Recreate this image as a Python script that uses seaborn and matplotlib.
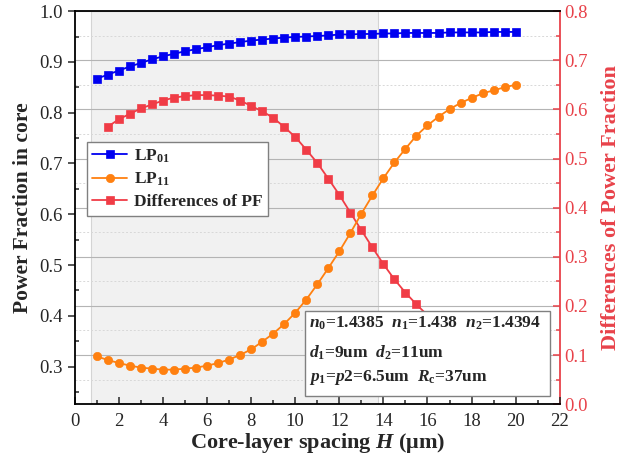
import matplotlib
matplotlib.use('Agg')
import matplotlib.pyplot as plt
from matplotlib.patches import Rectangle
from matplotlib.ticker import MultipleLocator, FormatStrFormatter
import seaborn as sns

# core-layer spacing H (um)
H = [1, 1.5, 2, 2.5, 3, 3.5, 4, 4.5, 5, 5.5, 6, 6.5, 7, 7.5, 8, 8.5, 9, 9.5, 10, 10.5,
     11, 11.5, 12, 12.5, 13, 13.5, 14, 14.5, 15, 15.5, 16, 16.5, 17, 17.5, 18, 18.5, 19, 19.5, 20]
lp01 = [0.867, 0.875, 0.883, 0.891, 0.898, 0.905, 0.911, 0.916, 0.921, 0.925,
        0.929, 0.933, 0.936, 0.939, 0.942, 0.944, 0.946, 0.948, 0.949, 0.950,
        0.951, 0.952, 0.954, 0.954, 0.955, 0.955, 0.956, 0.956, 0.957, 0.957,
        0.957, 0.957, 0.958, 0.958, 0.958, 0.958, 0.959, 0.959, 0.959]
lp11 = [0.320, 0.313, 0.307, 0.302, 0.298, 0.296, 0.294, 0.294, 0.296, 0.298,
        0.302, 0.307, 0.314, 0.323, 0.334, 0.349, 0.365, 0.384, 0.406, 0.432,
        0.462, 0.494, 0.527, 0.563, 0.601, 0.637, 0.671, 0.702, 0.729, 0.755,
        0.775, 0.792, 0.807, 0.819, 0.829, 0.838, 0.844, 0.850, 0.855]
H_diff = H[1:]
diff_pf = [0.565, 0.580, 0.591, 0.602, 0.610, 0.618, 0.624, 0.627, 0.629, 0.629,
           0.628, 0.626, 0.618, 0.607, 0.596, 0.583, 0.564, 0.544, 0.518, 0.491,
           0.459, 0.426, 0.390, 0.354, 0.319, 0.285, 0.254, 0.227, 0.203, 0.181,
           0.165, 0.150, 0.138, 0.128, 0.120, 0.114, 0.109, 0.104]

info_lines = [r'$\mathit{n}_\mathrm{0}$=1.4385  $\mathit{n}_\mathrm{1}$=1.438  $\mathit{n}_\mathrm{2}$=1.4394',
              r'$\mathit{d}_\mathrm{1}$=9um  $\mathit{d}_\mathrm{2}$=11um',
              r'$\mathit{p}_\mathrm{1}$=$\mathit{p}$2=6.5um  $\mathit{R}_\mathrm{c}$=37um']

blue = '#0000F0'
orange = '#FF8010'
red = '#F03C46'
axred = '#E8424A'

sns.set_theme(style='white')
plt.rcParams['font.family'] = ['Liberation Serif', 'DejaVu Serif']
plt.rcParams['mathtext.fontset'] = 'custom'
plt.rcParams['mathtext.rm'] = 'Liberation Serif:bold'
plt.rcParams['mathtext.it'] = 'Liberation Serif:italic:bold'
plt.rcParams['mathtext.bf'] = 'Liberation Serif:bold'

fig = plt.figure(figsize=(6.24, 4.63), dpi=100)
ax1 = fig.add_axes([0.120, 0.127, 0.777, 0.849])
ax2 = ax1.twinx()
ax1.set_zorder(2)
ax2.set_zorder(1)
ax1.patch.set_visible(False)

# shaded band + grid live on the twin axis so they stay behind the curves
ax2.axvspan(0.75, 13.75, facecolor='#f1f1f1', edgecolor='#d4d4d4', lw=0.8, zorder=0)
ax2.set_ylim(0, 0.8)
ax2.yaxis.set_major_locator(MultipleLocator(0.1))
ax2.yaxis.set_minor_locator(MultipleLocator(0.05))
ax2.grid(True, axis='y', which='major', color='#b4b4b4', lw=0.8, zorder=0.5)
ax2.grid(True, axis='y', which='minor', color='#d8d8d8', lw=0.7, ls=(0, (2, 2)), zorder=0.5)
ax2.grid(False, axis='x')

sns.lineplot(x=H_diff, y=diff_pf, ax=ax2, color=red, lw=1.3, marker='s', markersize=5.5,
             markeredgecolor=red, markeredgewidth=0.5, label='Differences of PF', legend=False)
sns.lineplot(x=H, y=lp01, ax=ax1, color=blue, lw=1.3, marker='s', markersize=5.5,
             markeredgecolor=blue, markeredgewidth=0.5, label=r'LP$_\mathrm{01}$', legend=False)
sns.lineplot(x=H, y=lp11, ax=ax1, color=orange, lw=1.3, marker='o', markersize=6,
             markeredgecolor=orange, markeredgewidth=0.5, label=r'LP$_\mathrm{11}$', legend=False)

ax1.set_xlim(0, 22)
ax1.set_ylim(0.226, 1.0)
ax1.xaxis.set_major_locator(MultipleLocator(2))
ax1.xaxis.set_minor_locator(MultipleLocator(1))
ax1.yaxis.set_major_locator(MultipleLocator(0.1))
ax1.yaxis.set_minor_locator(MultipleLocator(0.05))
ax1.yaxis.set_major_formatter(FormatStrFormatter('%.1f'))
ax2.yaxis.set_major_formatter(FormatStrFormatter('%.1f'))

for s in ['left', 'bottom', 'top']:
    ax1.spines[s].set_color('black')
    ax1.spines[s].set_linewidth(1.3)
ax1.spines['right'].set_visible(False)
for s in ['left', 'bottom', 'top']:
    ax2.spines[s].set_visible(False)
ax2.spines['right'].set_color(axred)
ax2.spines['right'].set_linewidth(1.3)

ax1.tick_params(axis='x', which='major', direction='in', length=5, width=1.1, labelsize=13.5, pad=6)
ax1.tick_params(axis='x', which='minor', direction='in', length=3, width=1.1)
ax1.tick_params(axis='y', which='major', direction='out', length=5, width=1.1, labelsize=13.5)
ax1.tick_params(axis='y', which='minor', direction='in', length=3, width=1.1)
ax1.tick_params(axis='both', which='both', bottom=True, left=True, top=False, right=False)
ax2.tick_params(axis='y', which='major', direction='in', length=5, width=1.1, colors=axred,
                labelsize=13.5, right=True)
ax2.tick_params(axis='y', which='minor', direction='in', length=3, width=1.1, colors=axred, right=True)

ax1.set_xlabel(r'Core-layer spacing $\mathit{H}$ (μm)', fontsize=16, fontweight='bold', labelpad=1)
ax1.set_ylabel('Power Fraction in core', fontsize=15.5, fontweight='bold', labelpad=5)
ax2.set_ylabel('Differences of Power Fraction', fontsize=16, fontweight='bold', color=axred, labelpad=9)

h1, l1 = ax1.get_legend_handles_labels()
h2, l2 = ax2.get_legend_handles_labels()
leg = ax1.legend(h1 + h2, l1 + l2, loc='upper left', bbox_to_anchor=(0.025, 0.667), borderaxespad=0,
                 fancybox=False, edgecolor='#808080', framealpha=1, handlelength=2.0,
                 labelspacing=0.35, borderpad=0.3, handletextpad=0.4,
                 prop={'family': 'Liberation Serif', 'weight': 'bold', 'size': 12.5})
leg.get_frame().set_linewidth(1.0)

ax1.add_patch(Rectangle((0.474, 0.02), 0.505, 0.217, transform=ax1.transAxes,
                        facecolor='white', edgecolor='#808080', lw=1.0, zorder=5))
for txt, yy in zip(info_lines, [0.206, 0.132, 0.069]):
    ax1.text(0.482, yy, txt, transform=ax1.transAxes, ha='left', va='center',
             fontsize=12.5, fontweight='bold', zorder=6)

fig.savefig('out.png', dpi=100)
